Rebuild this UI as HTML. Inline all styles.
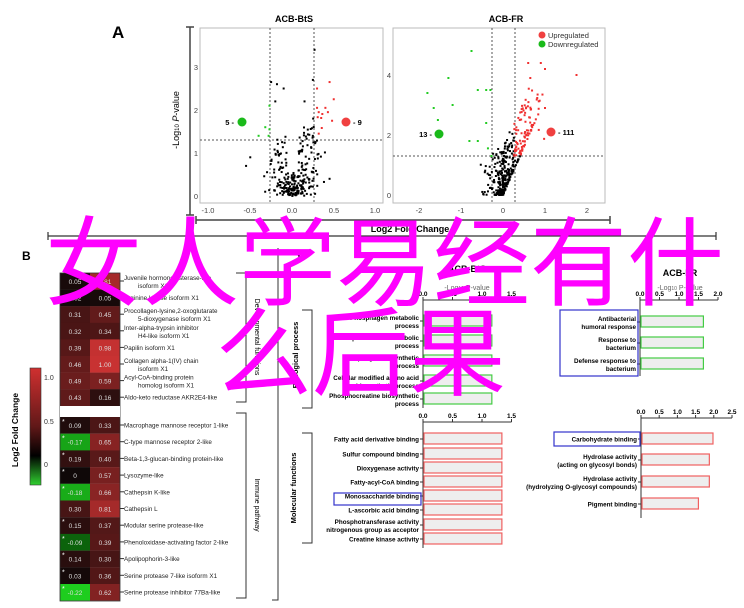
<!DOCTYPE html>
<html><head><meta charset="utf-8"><style>
html,body{margin:0;padding:0;background:#fff}
#w{position:relative;width:744px;height:608px;overflow:hidden;font-family:"Liberation Sans",sans-serif}
svg text{font-family:"Liberation Sans",sans-serif}
#ov{position:absolute;left:0;top:0;width:744px;text-align:center;color:#ff00ff;font-family:"Noto Sans CJK SC","WenQuanYi Zen Hei",sans-serif;font-size:97px;line-height:95px;letter-spacing:0;white-space:nowrap}
</style></head><body><div id="w">
<svg id="s" width="744" height="608" xmlns="http://www.w3.org/2000/svg">
<rect width="744" height="608" fill="#fff"/>
<text x="112" y="38" font-size="17" font-weight="bold">A</text>
<text x="294" y="22" font-size="9" font-weight="bold" text-anchor="middle">ACB-BtS</text>
<text x="506" y="22" font-size="9" font-weight="bold" text-anchor="middle">ACB-FR</text>
<g stroke="#bbb" fill="none"><rect x="200" y="28" width="183" height="175"/><rect x="393" y="28" width="212" height="175"/></g>
<g stroke="#444" stroke-width="1.5" fill="none"><path d="M190 27V215M186 27H194M186 215H194"/><path d="M196 220H610M196 216V224M610 216V224"/></g>
<text x="179" y="120" font-size="9" transform="rotate(-90 179 120)" text-anchor="middle">-Log<tspan font-size="6">10</tspan> <tspan font-style="italic">P</tspan>-value</text>
<text x="410" y="232" font-size="9" font-weight="bold" text-anchor="middle">Log2 Fold Change</text>
<g stroke="#555" stroke-dasharray="2,2" fill="none"><path d="M270 28V203M314 28V203M200 140H383M492 28V203M515 28V203M393 156H605"/></g>
<g font-size="7.5" fill="#444" text-anchor="middle"><text x="208" y="213">-1.0</text><text x="250" y="213">-0.5</text><text x="292" y="213">0.0</text><text x="334" y="213">0.5</text><text x="375" y="213">1.0</text>
<text x="419" y="213">-2</text><text x="461" y="213">-1</text><text x="503" y="213">0</text><text x="545" y="213">1</text><text x="587" y="213">2</text></g>
<g font-size="7.5" fill="#444" text-anchor="end"><text x="198" y="199">0</text><text x="198" y="156">1</text><text x="198" y="113">2</text><text x="198" y="70">3</text>
<text x="391" y="198">0</text><text x="391" y="138">2</text><text x="391" y="78">4</text></g>
<g id="pts"></g>
<circle cx="242" cy="122" r="4.5" fill="#1aba1a"/><text x="234" y="125" font-size="7.5" font-weight="bold" text-anchor="end">5 -</text>
<circle cx="346" cy="122" r="4.5" fill="#f04040"/><text x="353" y="125" font-size="7.5" font-weight="bold">- 9</text>
<circle cx="439" cy="134" r="4.5" fill="#1aba1a"/><text x="432" y="137" font-size="7.5" font-weight="bold" text-anchor="end">13 -</text>
<circle cx="551" cy="132" r="4.5" fill="#f04040"/><text x="558" y="135" font-size="7.5" font-weight="bold">- 111</text>
<circle cx="542" cy="35" r="3.5" fill="#f04040"/><text x="548" y="38" font-size="7.5" fill="#333">Upregulated</text>
<circle cx="542" cy="44" r="3.5" fill="#1aba1a"/><text x="548" y="47" font-size="7.5" fill="#333">Downregulated</text>
<path d="M48 236H716M48 232V240M716 232V240" stroke="#333" stroke-width="1.2"/>
<text x="22" y="260" font-size="12" font-weight="bold">B</text>
<g id="hm"></g>
<defs><linearGradient id="cb" x1="0" y1="0" x2="0" y2="1"><stop offset="0" stop-color="#d03030"/><stop offset="0.5" stop-color="#601818"/><stop offset="0.75" stop-color="#000"/><stop offset="1" stop-color="#30d030"/></linearGradient></defs>
<rect x="30" y="368" width="11" height="117" fill="url(#cb)" stroke="#333" stroke-width=".6"/>
<g font-size="7" fill="#333"><text x="44" y="380">1.0</text><text x="44" y="424">0.5</text><text x="44" y="467">0</text></g>
<text x="18" y="430" font-size="8.5" font-weight="bold" transform="rotate(-90 18 430)" text-anchor="middle">Log2 Fold Change</text>
<g stroke="#333" fill="none"><path d="M236 273H246V402H236M236 413H246V598H236"/><path d="M278 248V600H272"/></g>
<text x="255" y="337" font-size="7" transform="rotate(90 255 337)" text-anchor="middle">Developmental functions</text>
<text x="255" y="505" font-size="7" transform="rotate(90 255 505)" text-anchor="middle">Immune pathway</text>
<text x="297" y="258" font-size="12" font-weight="bold">C</text>
<text x="467" y="272" font-size="9" font-weight="bold" text-anchor="middle">ACB-BtS</text>
<text x="467" y="290" font-size="7" fill="#666" text-anchor="middle">-Log<tspan font-size="5">10</tspan> P-value</text>
<text x="680" y="276" font-size="9" font-weight="bold" text-anchor="middle">ACB-FR</text>
<text x="680" y="290" font-size="7" fill="#666" text-anchor="middle">-Log<tspan font-size="5">10</tspan> P-value</text>
<g stroke="#333" fill="none"><path d="M302 310H312V408H302M302 433H312V543H302"/></g>
<text x="298" y="355" font-size="7.5" font-weight="bold" transform="rotate(-90 298 355)" text-anchor="middle">Biological process</text>
<text x="296" y="488" font-size="7.5" font-weight="bold" transform="rotate(-90 296 488)" text-anchor="middle">Molecular functions</text>
<g id="bars"></g>
<rect x="560" y="310" width="78" height="66" fill="none" stroke="#3333cc" stroke-width="1.2"/>
<rect x="554" y="432" width="86" height="14" fill="none" stroke="#3333cc" stroke-width="1.2"/>
<rect x="334" y="493" width="87" height="12" fill="none" stroke="#3333cc" stroke-width="1.2"/>
</svg>
<div id="ov"><div style="position:absolute;top:208px;left:45px;">女人学易经有什</div><div style="position:absolute;top:298px;left:215px;">么后果</div></div>
</div>
<script>
var NS="http://www.w3.org/2000/svg";
function el(p,t,a,txt){var e=document.createElementNS(NS,t);for(var k in a)e.setAttribute(k,a[k]);if(txt!=null)e.textContent=txt;p.appendChild(e);return e;}
var seed=7;function r(){seed=(seed*16807)%2147483647;return seed/2147483647;}
var P=document.getElementById("pts");
// left volcano
for(var i=0;i<260;i++){var x=(r()+r()+r()-1.4)*0.28;var y=Math.abs(x)*2.6*r()+Math.pow(r(),2)*1.3;if(Math.abs(x)<0.06)y*=0.4;
var c=(y>1.3&&x>0.26)?"#f03030":(y>1.3&&x<-0.26)?"#22cc22":"#000";el(P,"rect",{x:292+x*83.5-1,y:196-y*43-1,width:2,height:2,fill:c});}
[[-0.25,2.65],[-0.18,2.6],[-0.1,2.5],[0.25,2.7],[0.15,2.2],[0.27,3.4],[-0.2,2.2],[0.45,0.4],[-0.55,0.7],[-0.5,0.9]].forEach(function(p){el(P,"rect",{x:292+p[0]*83.5-1,y:196-p[1]*43-1,width:2,height:2,fill:"#000"})});
[[0.3,2.5],[0.45,2.65],[0.5,2.25],[0.3,2.05],[0.4,2.05],[0.43,1.95],[0.32,1.95],[0.48,1.75],[0.32,1.45]].forEach(function(p){el(P,"rect",{x:292+p[0]*83.5-1,y:196-p[1]*43-1,width:2,height:2,fill:"#f03030"})});
[[-0.27,2.1],[-0.32,1.6],[-0.27,1.55],[-0.4,1.4],[-0.28,1.4]].forEach(function(p){el(P,"rect",{x:292+p[0]*83.5-1,y:196-p[1]*43-1,width:2,height:2,fill:"#22cc22"})});
// right volcano
for(var i=0;i<380;i++){var x=(r()-0.35)*Math.pow(r(),1.2)*1.6;var y=Math.max(0,x)*3.2+Math.pow(r(),2)*1.6;if(y>3.7)y=1.5+r()*2;
var c=(y>1.3&&x>0.26)?"#f03030":(y>1.3&&x<-0.26)?"#22cc22":"#000";el(P,"rect",{x:503+x*42-1,y:195-y*30-1,width:2,height:2,fill:c});}
var gx=[[-1.8,3.4],[-1.65,2.9],[-1.55,2.5],[-1.3,3.9],[-1.2,3.0],[-0.75,4.8],[-0.6,3.5],[-0.4,3.5],[-0.3,3.5],[-0.8,1.8],[-0.6,1.8],[-0.4,2.4]];
gx.forEach(function(p){el(P,"rect",{x:503+p[0]*42-1,y:195-p[1]*30-1,width:2,height:2,fill:"#22cc22"})});
[[0.6,4.4],[0.9,4.4],[1.0,4.2],[1.75,4.0],[0.65,3.9],[1.0,2.9]].forEach(function(p){el(P,"rect",{x:503+p[0]*42-1,y:195-p[1]*30-1,width:2,height:2,fill:"#f03030"})});
// heatmap
var H=document.getElementById("hm");
var dev=[[0.05,0.81,"Juvenile hormone esterase-like","isoform X1"],[0.02,0.05,"Arginine kinase isoform X1",""],[0.31,0.45,"Procollagen-lysine,2-oxoglutarate","5-dioxygenase isoform X1"],[0.32,0.34,"Inter-alpha-trypsin inhibitor","H4-like isoform X1"],[0.39,0.98,"Papilin isoform X1",""],[0.46,1.00,"Collagen alpha-1(IV) chain","isoform X1"],[0.49,0.59,"Acyl-CoA-binding protein","homolog isoform X1"],[0.43,0.16,"Aldo-keto reductase AKR2E4-like",""]];
var imm=[[0.09,0.33,"Macrophage mannose receptor 1-like"],[-0.17,0.65,"C-type mannose receptor 2-like"],[0.19,0.40,"Beta-1,3-glucan-binding protein-like"],[0,0.57,"Lysozyme-like"],[-0.18,0.66,"Cathepsin K-like"],[0.30,0.81,"Cathepsin L"],[0.15,0.37,"Modular serine protease-like"],[-0.09,0.39,"Phenoloxidase-activating factor 2-like"],[0.14,0.30,"Apolipophorin-3-like"],[0.03,0.36,"Serine protease 7-like isoform X1"],[-0.22,0.62,"Serine protease inhibitor 77Ba-like"]];
function col(v){if(v>=0){var a=Math.min(v,1);return "rgb("+Math.round(15+185*a)+","+Math.round(8+42*a)+","+Math.round(8+42*a)+")";}var a=Math.min(-v/0.22,1);return "rgb("+Math.round(30*a)+","+Math.round(25+180*a)+","+Math.round(30*a)+")";}
function fmt(v){return v==0?"0":v.toFixed(2);}
function row(y,d,star){for(var j=0;j<2;j++){el(H,"rect",{x:60+j*30,y:y,width:30,height:16.8,fill:col(d[j])});
el(H,"text",{x:75+j*30,y:y+11,"font-size":6.5,fill:"#ddd","text-anchor":"middle"},fmt(d[j]));}
if(star)el(H,"text",{x:62,y:y+7,"font-size":7,fill:"#fff"},"*");
el(H,"path",{d:"M120 "+(y+8)+"H124",stroke:"#333"});
if(d[3]){el(H,"text",{x:124,y:y+7,"font-size":6.3,fill:"#222"},d[2]);el(H,"text",{x:138,y:y+15,"font-size":6.3,fill:"#222"},d[3]);}
else el(H,"text",{x:124,y:y+10.5,"font-size":6.3,fill:"#222"},d[2]);}
dev.forEach(function(d,i){row(273+i*16.6,d,false)});
imm.forEach(function(d,i){row(417+i*16.7,d,d[0]<0.2&&i!=5)});
el(H,"rect",{x:60,y:273,width:60,height:328,fill:"none",stroke:"#333","stroke-width":0.8});
el(H,"rect",{x:60,y:406,width:60,height:11,fill:"#fff"});
// bars
var B=document.getElementById("bars");
function axis(x0,y,unit,ticks,lbls){el(B,"path",{d:"M"+x0+" "+y+"H"+(x0+unit*ticks[ticks.length-1]),stroke:"#333"});
ticks.forEach(function(t,i){var x=x0+unit*t;el(B,"path",{d:"M"+x+" "+y+"V"+(y-3),stroke:"#333"});el(B,"text",{x:x,y:y-4,"font-size":6.5,"font-weight":"bold","text-anchor":"middle"},lbls[i]);});}
function bars(x0,y0,unit,items,clr,axisEnd){el(B,"path",{d:"M"+x0+" "+y0+"V"+axisEnd,stroke:"#333"});
items.forEach(function(it){var y=it[0];el(B,"rect",{x:x0+1,y:y-6,width:unit*it[1],height:11,fill:"#eee",stroke:clr,"stroke-width":1.2});
el(B,"path",{d:"M"+(x0-3)+" "+y+"H"+x0,stroke:"#333"});
var l=it[2].split("|");if(l.length==1)el(B,"text",{x:x0-4,y:y+2.5,"font-size":6.3,"font-weight":"bold","text-anchor":"end"},l[0]);
else{el(B,"text",{x:x0-4,y:y-1,"font-size":6.3,"font-weight":"bold","text-anchor":"end"},l[0]);el(B,"text",{x:x0-4,y:y+7,"font-size":6.3,"font-weight":"bold","text-anchor":"end"},l[1]);}});}
axis(423,300,59,[0,0.5,1,1.5],["0.0","0.5","1.0","1.5"]);
bars(423,300,59,[[321,1.15,"Phosphagen metabolic|process"],[341,1.15,"Phosphocreatine metabolic|process"],[361,1.15,"Phosphagen biosynthetic|process"],[381,1.15,"Cellular modified amino acid|biosynthetic process"],[399,1.15,"Phosphocreatine biosynthetic|process"]],"#44cc44",408);
axis(423,422,59,[0,0.5,1,1.5],["0.0","0.5","1.0","1.5"]);
bars(423,422,59,[[439,1.32,"Fatty acid derivative binding"],[454,1.32,"Sulfur compound binding"],[468,1.32,"Dioxygenase activity"],[482,1.32,"Fatty-acyl-CoA binding"],[496,1.32,"Monosaccharide binding"],[510,1.32,"L-ascorbic acid binding"],[525,1.32,"Phosphotransferase activity|nitrogenous group as acceptor"],[539,1.32,"Creatine kinase activity"]],"#f06060",548);
axis(640,300,39,[0,0.5,1,1.5,2],["0.0","0.5","1.0","1.5","2.0"]);
bars(640,300,39,[[322,1.6,"Antibacterial|humoral response"],[343,1.6,"Response to|bacterium"],[364,1.6,"Defense response to|bacterium"]],"#44cc44",376);
axis(641,418,36.4,[0,0.5,1,1.5,2,2.5],["0.0","0.5","1.0","1.5","2.0","2.5"]);
bars(641,418,36.4,[[439,1.95,"Carbohydrate binding"],[460,1.85,"Hydrolase activity|(acting on glycosyl bonds)"],[482,1.85,"Hydrolase activity|(hydrolyzing O-glycosyl compounds)"],[504,1.55,"Pigment binding"]],"#f06060",518);
</script>
</body></html>
